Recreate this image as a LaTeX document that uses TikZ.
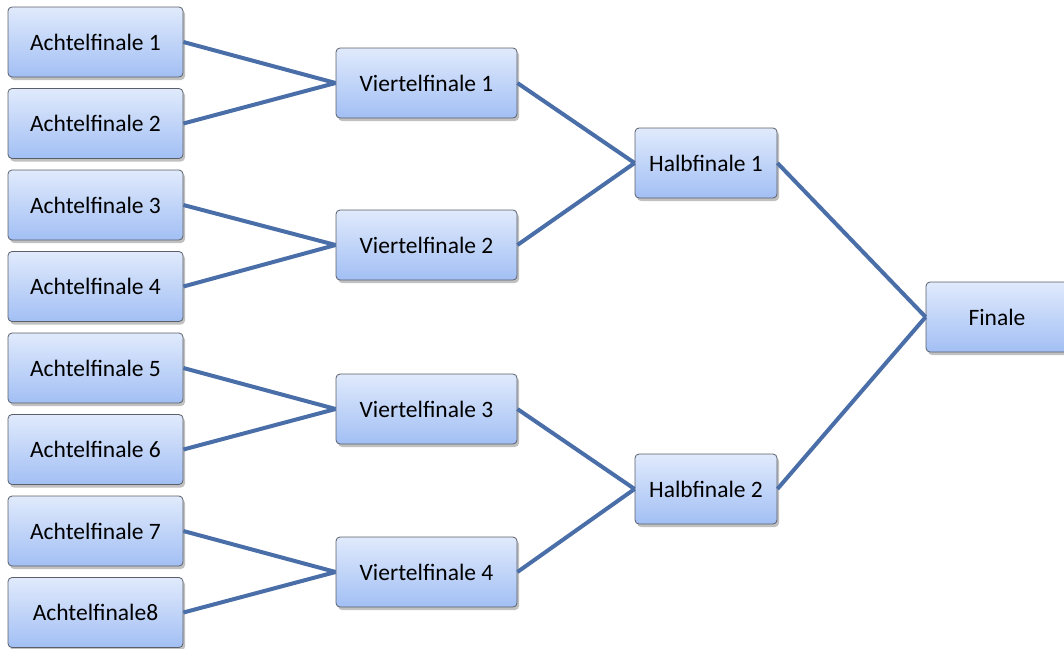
\documentclass[tikz,border=0pt]{standalone}
\usepackage{fontspec}
\setmainfont{Carlito}
\usetikzlibrary{shadows}
\definecolor{boxtop}{HTML}{E0EAFC}
\definecolor{boxbot}{HTML}{A2BFF4}
\definecolor{boxline}{HTML}{5A5F6A}
\definecolor{wire}{HTML}{4A6EA8}
\tikzset{
  match/.style={draw=boxline, line width=0.8pt, rounded corners=4pt,
    top color=boxtop, bottom color=boxbot,
    drop shadow={shadow xshift=2pt, shadow yshift=-3pt, opacity=0.35, fill=black!70},
    minimum height=70pt, inner sep=0pt,
    font=\fontsize{23.5}{28}\selectfont},
  r16/.style={match, minimum width=175pt},
  qf/.style={match, minimum width=181pt},
  sf/.style={match, minimum width=142pt},
  fin/.style={match, minimum width=142pt},
  wirestyle/.style={draw=wire, line width=4pt}
}
\begin{document}
\begin{tikzpicture}[x=1pt,y=1pt]
\useasboundingbox (0,0) rectangle (1064,-648);
\clip (0,0) rectangle (1064,-648);
% round of sixteen
\node[r16] (a1) at (95.5,-42)    {Achtelfinale 1};
\node[r16] (a2) at (95.5,-123.5) {Achtelfinale 2};
\node[r16] (a3) at (95.5,-205)   {Achtelfinale 3};
\node[r16] (a4) at (95.5,-286.5) {Achtelfinale 4};
\node[r16] (a5) at (95.5,-368)   {Achtelfinale 5};
\node[r16] (a6) at (95.5,-449.5) {Achtelfinale 6};
\node[r16] (a7) at (95.5,-531)   {Achtelfinale 7};
\node[r16] (a8) at (95.5,-612.5) {Achtelfinale8};
% quarter finals
\node[qf] (v1) at (426.5,-83)  {Viertelfinale 1};
\node[qf] (v2) at (426.5,-245) {Viertelfinale 2};
\node[qf] (v3) at (426.5,-409) {Viertelfinale 3};
\node[qf] (v4) at (426.5,-572) {Viertelfinale 4};
% semi finals
\node[sf] (h1) at (706,-163) {Halbfinale 1};
\node[sf] (h2) at (706,-489) {Halbfinale 2};
% final
\node[fin] (f) at (997,-317) {Finale};
% bracket lines
\foreach \a/\v in {a1/v1,a2/v1,a3/v2,a4/v2,a5/v3,a6/v3,a7/v4,a8/v4}
  \draw[wirestyle] (\a.east) -- (\v.west);
\foreach \v/\h in {v1/h1,v2/h1,v3/h2,v4/h2}
  \draw[wirestyle] (\v.east) -- (\h.west);
\foreach \h in {h1,h2}
  \draw[wirestyle] (\h.east) -- (f.west);
\end{tikzpicture}
\end{document}
